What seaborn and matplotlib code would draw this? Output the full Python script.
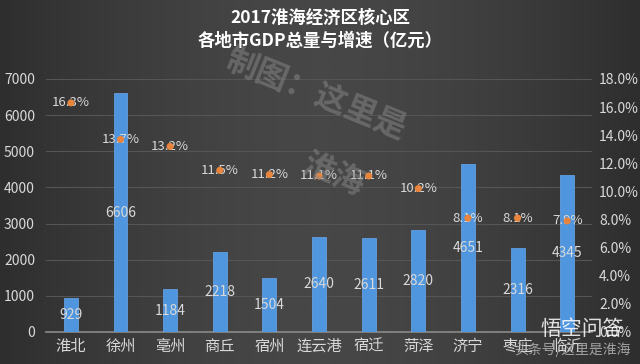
import matplotlib
matplotlib.use("Agg")
import matplotlib.pyplot as plt
import seaborn as sns
import numpy as np
import pandas as pd

# Data
cities = ["淮北", "徐州", "亳州", "商丘", "宿州", "连云港", "宿迁", "菏泽", "济宁", "枣庄", "临沂"]
gdp = [929, 6606, 1184, 2218, 1504, 2640, 2611, 2820, 4651, 2316, 4345]
growth = [16.3, 13.7, 13.2, 11.5, 11.2, 11.1, 11.1, 10.2, 8.1, 8.1, 7.9]
gdp_ticks = [0, 1000, 2000, 3000, 4000, 5000, 6000, 7000]
growth_ticks = [0, 2, 4, 6, 8, 10, 12, 14, 16, 18]

df = pd.DataFrame({"city": cities, "gdp": gdp, "growth": growth})

sns.set_theme(style="dark")
plt.rcParams["font.family"] = ["Noto Sans CJK SC", "DejaVu Sans"]

BG = "#3b3b3b"
TXT = "#d9d9d9"

fig = plt.figure(figsize=(6.4, 3.64), dpi=100, facecolor=BG)

# background gradient (lighter centre)
bg = fig.add_axes([0, 0, 1, 1], zorder=-10)
xx = np.linspace(-1, 1, 300)
grad = 1 - np.abs(xx) ** 1.6
cmap = matplotlib.colors.LinearSegmentedColormap.from_list("g", ["#2e2e2e", "#474747"])
bg.imshow(np.tile(grad, (10, 1)), aspect="auto", cmap=cmap, extent=[0, 1, 0, 1])
bg.set_axis_off()

ax = fig.add_axes([0.072, 0.088, 0.853, 0.695])
ax.set_facecolor("none")
sns.barplot(data=df, x="city", y="gdp", color="#4f96de", width=0.28, ax=ax, zorder=3,
            saturation=1, edgecolor="#6aaaf0", linewidth=0.5)
ax.set_ylim(0, 7000)
ax.set_xlim(-0.5, 10.5)
ax.set_yticks(gdp_ticks)
ax.grid(axis="y", color="#555555", linewidth=0.8, zorder=0)
ax.set_xlabel("")
ax.set_ylabel("")
ax.tick_params(axis="y", colors=TXT, labelsize=10, length=0, pad=8)
ax.tick_params(axis="x", colors=TXT, labelsize=11, length=0, pad=4)
for s in ["top", "right", "left"]:
    ax.spines[s].set_visible(False)
ax.spines["bottom"].set_color("#8a8a8a")
ax.spines["bottom"].set_linewidth(1.2)

for i, v in enumerate(gdp):
    ax.text(i, v / 2, str(v), ha="center", va="center", color=TXT, fontsize=10, zorder=5)

ax2 = ax.twinx()
for i, g in enumerate(growth):
    ax2.text(i, g, f"{g:.1f}%", ha="center", va="center", color=TXT, fontsize=9.5, zorder=6)
sns.scatterplot(data=df, x="city", y="growth", color="#e8843c", s=26, edgecolor="none", ax=ax2, zorder=8)
ax2.set_ylim(0, 18)
ax2.set_yticks(growth_ticks)
ax2.set_yticklabels([f"{t:.1f}%" for t in growth_ticks])
ax2.set_ylabel("")
ax2.tick_params(axis="y", colors=TXT, labelsize=10, length=0, pad=5)
for s in ax2.spines.values():
    s.set_visible(False)
ax2.grid(False)

# title
fig.text(0.5, 0.952, "2017淮海经济区核心区", ha="center", va="center", color="white",
         fontsize=12.5, fontweight="bold")
fig.text(0.5, 0.888, "各地市GDP总量与增速（亿元）", ha="center", va="center", color="white",
         fontsize=12.5, fontweight="bold")

# watermarks
fig.text(0.345, 0.74, "制图：这里是", ha="left", va="center", color="#8a8a8a", alpha=0.5,
         fontsize=23, fontweight="bold", rotation=-22)
fig.text(0.465, 0.52, "淮海", ha="left", va="center", color="#8a8a8a", alpha=0.5,
         fontsize=23, fontweight="bold", rotation=-22)
fig.text(0.985, 0.02, "头条号/这里是淮海", ha="right", va="bottom", color="#bbbbbb", alpha=0.8, fontsize=10)
fig.text(0.975, 0.065, "悟空问答", ha="right", va="bottom", color="white", alpha=0.85, fontsize=15)

fig.savefig("out.png", dpi=100, facecolor=BG)
